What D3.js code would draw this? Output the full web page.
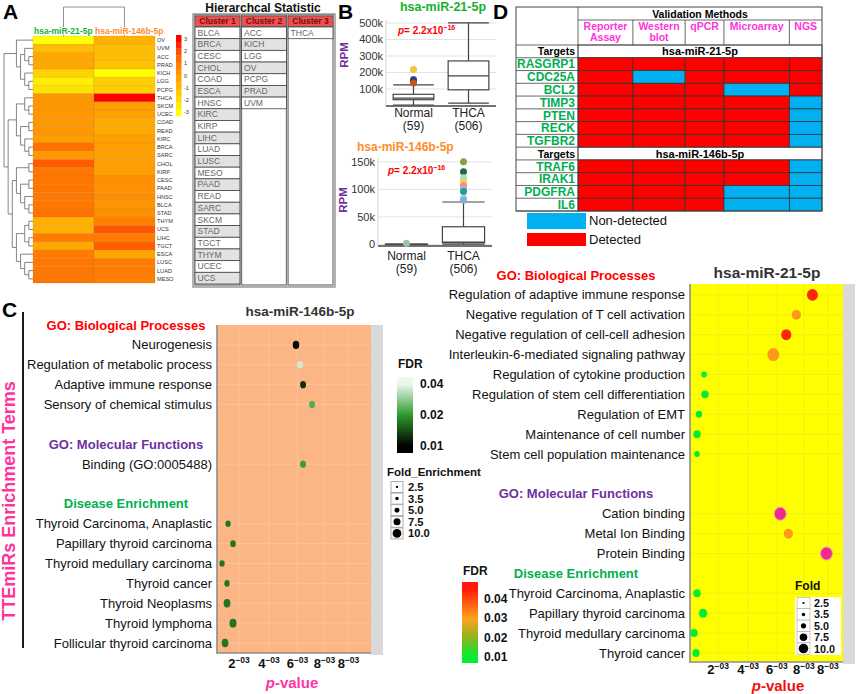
<!DOCTYPE html>
<html><head><meta charset="utf-8">
<script src="https://cdn.jsdelivr.net/npm/d3@7"></script>
<style>body{margin:0;background:#fff}svg{display:block;font-family:"Liberation Sans",Arial,sans-serif}</style>
</head><body><svg id="c" width="858" height="694"></svg>
<script>
// ================= DATA =================
// Panel A heatmap
const hmRows = ["OV","UVM","ACC","PRAD","KICH","LGG","PCPG","THCA","SKCM","UCEC","COAD","READ","KIRC","BRCA","SARC","CHOL","KIRP","CESC","PAAD","HNSC","BLCA","STAD","THYM","UCS","LIHC","TGCT","ESCA","LUSC","LUAD","MESO"];
const hmCols = ["hsa-miR-21-5p","hsa-miR-146b-5p"];
const hmMiR21  = [-3,-1,-0.3,-0.3,-1.7,-2.5,-2.2,0.2,0.2,0.2,0.2,0.2,0.1,1.2,0.2,1.7,1.1,1.1,1.1,1.1,1.1,1.2,-0.6,-0.6,1,-0.3,1,1.1,1.1,1.1];
const hmMiR146 = [-0.7,-1,-1,-1.2,-3,-1.6,-1.6,3,0,0,-0.4,-0.4,0,0,0,0,0,0.4,0.4,0.5,0.3,0.4,0.9,1.8,1,1.6,-0.2,1,1,0.9];
const hmTree = [
  ["OV", [["UVM",["ACC","PRAD"]], ["KICH",["LGG","PCPG"]]]],
  [[["THCA",["SKCM","UCEC"]], [["COAD","READ"],["KIRC",["BRCA","SARC"]]]],
   [[["CHOL","KIRP"],[["CESC","PAAD"],["HNSC",["BLCA","STAD"]]]],
    [[["THYM","UCS"],["LIHC","TGCT"]],["ESCA",["LUSC",["LUAD","MESO"]]]]]]
];
const hmLegendTicks = [3,2,1,0,-1,-2,-3];
// Hierarchical statistic
const clusterNames = ["Cluster 1","Cluster 2","Cluster 3"];
const cluster1 = ["BLCA","BRCA","CESC","CHOL","COAD","ESCA","HNSC","KIRC","KIRP","LIHC","LUAD","LUSC","MESO","PAAD","READ","SARC","SKCM","STAD","TGCT","THYM","UCEC","UCS"];
const cluster2 = ["ACC","KICH","LGG","OV","PCPG","PRAD","UVM"];
const cluster3 = ["THCA"];
// Panel B box plots  [lowWhisker, q1, median, q3, highWhisker]
const bCats = ["Normal","THCA"];
const bCounts = ["(59)","(506)"];
const miR21Stats = [[3000,35000,45000,68000,125000],[15000,95000,180000,270000,500000]];
const miR21Outliers = [[218000,157000,148000,137000],[]];
const miR21Ticks = [100000,200000,300000,400000,500000];
const miR21TickLabels = ["100k","200k","300k","400k","500k"];
const miR146Stats = [[0,0,0,0,0],[500,3000,4000,32000,77000]];
const miR146Outliers = [[2000],[150000,132000,121000,114000,106000,102000,96000,84000,80000]];
const miR146Ticks = [0,50000,100000,150000];
const miR146TickLabels = ["0","50k","100k","150k"];
// Panel D validation table
const dMethods = [["Reporter","Assay"],["Western","blot"],["qPCR"],["Microarray"],["NGS"]];
const dGroups = ["hsa-miR-21-5p","hsa-miR-146b-5p"];
const dTargets21 = ["RASGRP1","CDC25A","BCL2","TIMP3","PTEN","RECK","TGFBR2"];
const dDetect21 = [[1,1,1,1,1],[1,0,1,1,1],[1,1,1,0,1],[1,1,1,1,0],[1,1,1,1,0],[1,1,1,1,0],[1,1,1,1,0]];
const dTargets146 = ["TRAF6","IRAK1","PDGFRA","IL6"];
const dDetect146 = [[1,1,1,1,0],[1,1,1,1,0],[1,1,1,0,0],[1,1,1,0,0]];
const dLegend = ["Non-detected","Detected"];
// Panel C enrichment
const pTicks = [0.002,0.004,0.0059,0.0077,0.0093];
const pTickLabels = ["2^\u221203","4^\u221203","6^\u221203","8^\u221203","8^\u221203"];
const foldLegend = [2.5,3.5,5.0,7.5,10.0];
const l146Rows = ["#GO: Biological Processes","Neurogenesis","Regulation of metabolic process","Adaptive immune response","Sensory of chemical stimulus"," ","#GO: Molecular Functions","Binding (GO:0005488)","  ","#Disease Enrichment","Thyroid Carcinoma, Anaplastic","Papillary thyroid carcinoma","Thyroid medullary carcinoma","Thyroid cancer","Thyroid Neoplasms","Thyroid lymphoma","Follicular thyroid carcinoma"];
const l146Terms = ["Neurogenesis","Regulation of metabolic process","Adaptive immune response","Sensory of chemical stimulus","Binding (GO:0005488)","Thyroid Carcinoma, Anaplastic","Papillary thyroid carcinoma","Thyroid medullary carcinoma","Thyroid cancer","Thyroid Neoplasms","Thyroid lymphoma","Follicular thyroid carcinoma"];
const l146P = [0.0058,0.00607,0.00627,0.00687,0.00627,0.00127,0.0016,0.00087,0.0012,0.0012,0.0016,0.00107];
const l146Fdr = [0.0105,0.037,0.013,0.024,0.021,0.0175,0.0175,0.0175,0.0175,0.0175,0.0175,0.0175];
const l146Fold = [8.5,7.5,7.5,7.5,7.5,6.5,7,6.5,6.5,9,9.5,9];
const l146FdrTicks = [0.04,0.02,0.01];
const r21Rows = ["#GO: Biological Processes","Regulation of adaptive immune response","Negative regulation of T cell activation","Negative regulation of cell-cell adhesion","Interleukin-6-mediated signaling pathway","Regulation of cytokine production","Regulation of stem cell differentiation","Regulation of EMT","Maintenance of cell number","Stem cell population maintenance"," ","#GO: Molecular Functions","Cation binding","Metal Ion Binding","Protein Binding","#Disease Enrichment","Thyroid Carcinoma, Anaplastic","Papillary thyroid carcinoma","Thyroid medullary carcinoma","Thyroid cancer"];
const r21Terms = ["Regulation of adaptive immune response","Negative regulation of T cell activation","Negative regulation of cell-cell adhesion","Interleukin-6-mediated signaling pathway","Regulation of cytokine production","Regulation of stem cell differentiation","Regulation of EMT","Maintenance of cell number","Stem cell population maintenance","Cation binding","Metal Ion Binding","Protein Binding","Thyroid Carcinoma, Anaplastic","Papillary thyroid carcinoma","Thyroid medullary carcinoma","Thyroid cancer"];
const r21P = [0.00827,0.0072,0.00653,0.00567,0.00107,0.00113,0.00073,0.0006,0.0006,0.00613,0.00667,0.0092,0.0006,0.001,0.0004,0.00053];
const r21Fdr = [0.044,0.031,0.044,0.031,0.01,0.01,0.01,0.01,0.01,0.05,0.031,0.05,0.01,0.01,0.01,0.01];
const r21Fold = [8.5,6.9,7.7,9.4,4.1,5.4,4.7,5.4,4.1,9.4,6.9,9.4,5.4,6.1,5.4,5.4];
const r21FdrTicks = [0.04,0.03,0.02,0.01];

// ================= DRAW =================
const svg = d3.select("#c");
svg.append("rect").attr("width",858).attr("height",694).attr("fill","#fff");
const defs = svg.append("defs");
function txt(g,x,y,s,size,opt={}){
  const t=g.append("text").attr("x",x).attr("y",y).attr("font-size",size).text(s);
  if(opt.anchor) t.attr("text-anchor",opt.anchor);
  if(opt.bold) t.attr("font-weight","bold");
  t.attr("fill",opt.fill||"#111");
  return t;
}
[["A",3,19],["B",338,19],["D",493,19],["C",2,317]].forEach(d=>txt(svg,d[1],d[2],d[0],21,{bold:true,fill:"#000"}));

// ---------- Panel A ----------
const gA = svg.append("g");
const hmY = d3.scaleBand().domain(hmRows).range([36,283]);
const hmX = d3.scaleBand().domain(hmCols).range([33,155]);
const hmColor = d3.scaleLinear().domain([-3,-2,-1,0,1,2,3])
  .range(["#ffff00","#ffdc00","#ffbc00","#ff9f00","#ff7c00","#ff4c00","#ff0000"]).clamp(true);
const hmVals = [hmMiR21, hmMiR146];
hmRows.forEach((r,i)=>{
  hmCols.forEach((c,j)=>{
    gA.append("rect").attr("x",hmX(c)).attr("y",hmY(r)).attr("width",hmX.bandwidth()).attr("height",hmY.bandwidth())
      .attr("fill",hmColor(hmVals[j][i])).attr("stroke","rgba(170,110,40,0.35)").attr("stroke-width",0.5);
  });
  txt(gA,157,hmY(r)+hmY.bandwidth()/2+2,r,5.6,{fill:"#333"});
});
// row dendrogram
const rootR = d3.hierarchy(hmTree, d=>Array.isArray(d)?d:null);
d3.cluster().size([247,29]).separation(()=>1)(rootR);
rootR.links().forEach(l=>{
  gA.append("path").attr("d",`M${4+l.source.y},${36+l.source.x}V${36+l.target.x}H${4+l.target.y}`)
    .attr("fill","none").attr("stroke","#666").attr("stroke-width",0.8);
});
// column dendrogram
const rootC = d3.hierarchy(hmCols.slice(), d=>Array.isArray(d)?d:null);
d3.cluster().size([122,29]).separation(()=>1)(rootC);
rootC.links().forEach(l=>{
  gA.append("path").attr("d",`M${33+l.source.x},${7+l.source.y}H${33+l.target.x}V${7+l.target.y}`)
    .attr("fill","none").attr("stroke","#777").attr("stroke-width",0.8);
});
hmCols.forEach((c,j)=>{
  const t=txt(gA,hmX(c)+1,34,c,8.5,{bold:true,fill:j===0?"#16b030":"#ff8c2a"});
  t.attr("paint-order","stroke").attr("stroke","#fff").attr("stroke-width",1.5);
});
// legend
const legY = d3.scaleLinear().domain([3.3,-3.3]).range([35,116]);
d3.range(12).forEach(k=>{
  const v0 = 3.3 - k*0.55;
  gA.append("rect").attr("x",176).attr("y",legY(v0)).attr("width",5.5).attr("height",legY(v0-0.55)-legY(v0)+0.3)
    .attr("fill",hmColor(v0-0.275));
});
hmLegendTicks.forEach(t=>txt(gA,184,legY(t)+2,String(t),5.5,{fill:"#333"}));

// Hierarchical statistic table
txt(gA,263,12,"Hierarchcal Statistic",12,{bold:true,anchor:"middle",fill:"#111"});
gA.append("rect").attr("x",193).attr("y",14).attr("width",142).attr("height",273).attr("fill","#fff").attr("stroke","#999").attr("stroke-width",1.5);
const hsX = d3.scaleBand().domain(clusterNames).range([195,333]).paddingInner(0.035);
const hsRowH = (284-27)/22;
[cluster1,cluster2,cluster3].forEach((list,ci)=>{
  const x0 = hsX(clusterNames[ci]), bw = hsX.bandwidth();
  gA.append("rect").attr("x",x0).attr("y",15).attr("width",bw).attr("height",270).attr("fill","#fff").attr("stroke","#7a7a7a").attr("stroke-width",1.3);
  gA.append("rect").attr("x",x0).attr("y",16).attr("width",bw).attr("height",10.5).attr("fill","#ef5050").attr("stroke","#555").attr("stroke-width",0.8);
  txt(gA,x0+bw/2,24.3,clusterNames[ci],8.5,{bold:true,anchor:"middle",fill:"#7a0c0c"});
  list.forEach((n,k)=>{
    const y0 = 27 + k*hsRowH;
    gA.append("rect").attr("x",x0).attr("y",y0).attr("width",bw).attr("height",hsRowH)
      .attr("fill",k%2?"#e2e2e2":"#fff").attr("stroke","#444").attr("stroke-width",0.8);
    txt(gA,x0+2.5,y0+8.6,n,8.5,{fill:"#666"});
  });
});

// ---------- Panel B ----------
const outColors21 = [["#f2c53d","#2f5fa0","#1f3b84","#c4571f"],[]];
const outColors146 = [["#9cc3a8"],["#8ba046","#1d6b3f","#a9ddd6","#f3cf48","#f2857a","#e596c2","#12a39a","#aac8e6","#86aed2"]];
function boxPanel(o){
  const g = svg.append("g");
  const x = d3.scaleBand().domain(bCats).range([o.x0,o.x1]);
  const y = d3.scaleLinear().domain(o.yDom).range([o.yBot,o.yTop]);
  o.ticks.forEach(t=>g.append("line").attr("x1",o.x0).attr("x2",o.x1).attr("y1",y(t)).attr("y2",y(t)).attr("stroke","#e2e2e2"));
  g.append("line").attr("x1",o.x0).attr("x2",o.x0).attr("y1",o.yTop).attr("y2",o.yBot).attr("stroke","#d5d5d5");
  g.append("line").attr("x1",o.x0).attr("x2",o.x1).attr("y1",o.yBot).attr("y2",o.yBot).attr("stroke","#444").attr("stroke-width",1.3);
  o.ticks.forEach((t,i)=>txt(g,o.x0-3,y(t)+4,o.tickLabels[i],11,{anchor:"end",fill:"#333"}));
  bCats.forEach((c,i)=>{
    const s = o.stats[i], cx = x(c)+x.bandwidth()/2, bw = x.bandwidth()*0.74;
    const st = {stroke:"#444", sw:1.2};
    g.append("line").attr("x1",cx).attr("x2",cx).attr("y1",y(s[0])).attr("y2",y(s[4])).attr("stroke",st.stroke).attr("stroke-width",st.sw);
    [s[0],s[4]].forEach(v=>g.append("line").attr("x1",cx-bw/2).attr("x2",cx+bw/2).attr("y1",y(v)).attr("y2",y(v)).attr("stroke",st.stroke).attr("stroke-width",st.sw));
    g.append("rect").attr("x",cx-bw/2).attr("y",y(s[3])).attr("width",bw).attr("height",Math.max(0.1,y(s[1])-y(s[3])))
      .attr("fill","#fff").attr("stroke",st.stroke).attr("stroke-width",st.sw);
    if (y(s[1])-y(s[3]) > 30) {
      txt(g,cx,y(s[2])+3,d3.format(".3~s")(s[2]),8,{anchor:"middle",fill:"#aaa"});
    } else {
      g.append("line").attr("x1",cx-bw/2).attr("x2",cx+bw/2).attr("y1",y(s[2])).attr("y2",y(s[2])).attr("stroke",st.stroke).attr("stroke-width",st.sw);
    }
    o.outliers[i].forEach((v,k)=>g.append("circle").attr("cx",cx).attr("cy",y(v)).attr("r",3.5).attr("fill",o.outColors[i][k]));
    txt(g,cx,o.labY,c,12,{anchor:"middle",fill:"#222"});
    txt(g,cx,o.labY+13,bCounts[i],12,{anchor:"middle",fill:"#222"});
  });
  txt(g,o.titleX,o.titleY,o.title,o.titleSize,{bold:true,fill:o.titleColor,anchor:o.titleAnchor});
  const r = txt(g,0,0,"RPM",11.5,{bold:true,fill:"#7030a0",anchor:"middle"});
  r.attr("transform",`translate(${o.rpmX},${o.rpmY}) rotate(-90)`);
  const p = g.append("text").attr("x",o.pX).attr("y",o.pY).attr("font-size",10).attr("font-weight","bold").attr("fill","#ff0000");
  p.append("tspan").attr("font-style","italic").text("p");
  p.append("tspan").text("= 2.2x10");
  p.append("tspan").attr("font-size",7).attr("dy",-4).text("\u221216");
}
boxPanel({x0:386,x1:496,yDom:[-3000,518000],yBot:106,yTop:20,ticks:miR21Ticks,tickLabels:miR21TickLabels,
  stats:miR21Stats,outliers:miR21Outliers,outColors:outColors21,labY:117,
  title:"hsa-miR-21-5p",titleX:443,titleY:11,titleSize:12.5,titleColor:"#16b030",titleAnchor:"middle",
  rpmX:348,rpmY:55,pX:398,pY:34});
boxPanel({x0:378,x1:492,yDom:[-3000,157000],yBot:246,yTop:158,ticks:miR146Ticks,tickLabels:miR146TickLabels,
  stats:miR146Stats,outliers:miR146Outliers,outColors:outColors146,labY:260,
  title:"hsa-miR-146b-5p",titleX:357,titleY:151,titleSize:12,titleColor:"#ff8c2a",titleAnchor:"start",
  rpmX:347,rpmY:200,pX:388,pY:174});

// ---------- Panel D ----------
const gD = svg.append("g");
const tmp = gD.append("text").attr("font-size",10.5).attr("font-weight","bold");
const mw = dMethods.map(lines=>d3.max(lines,l=>{tmp.text(l);return tmp.node().getComputedTextLength();}));
tmp.remove();
const wts = mw.map(w=>w+8), wTot = d3.sum(wts);
const colEdges=[578]; wts.forEach(w=>colEdges.push(colEdges[colEdges.length-1]+w/wTot*244));
const dRowKeys = ["#0",...dTargets21,"#1",...dTargets146];
const dY = d3.scaleBand().domain(dRowKeys).range([45,211]);
const dDetect = {}; dTargets21.forEach((t,i)=>dDetect[t]=dDetect21[i]); dTargets146.forEach((t,i)=>dDetect[t]=dDetect146[i]);
const RED="#ff0000", BLUE="#00b0f0";
gD.append("rect").attr("x",516).attr("y",7).attr("width",306).attr("height",204).attr("fill","#fff");
dRowKeys.forEach(k=>{
  const y0=dY(k), h=dY.bandwidth();
  if(k[0]==="#"){
    txt(gD,575,y0+h/2+4,"Targets",10.5,{bold:true,anchor:"end",fill:"#000"});
    txt(gD,700,y0+h/2+4,dGroups[+k[1]],11,{bold:true,anchor:"middle",fill:"#000"});
    gD.append("rect").attr("x",578).attr("y",y0).attr("width",244).attr("height",h).attr("fill","none").attr("stroke","#444").attr("stroke-width",0.8);
  } else {
    dDetect[k].forEach((v,j)=>{
      gD.append("rect").attr("x",colEdges[j]).attr("y",y0).attr("width",colEdges[j+1]-colEdges[j]).attr("height",h)
        .attr("fill",v?RED:BLUE).attr("stroke","#333").attr("stroke-width",0.8);
    });
    txt(gD,575,y0+h/2+4.3,k,12,{bold:true,anchor:"end",fill:"#00b050"});
  }
  gD.append("line").attr("x1",516).attr("x2",578).attr("y1",y0+h).attr("y2",y0+h).attr("stroke","#444").attr("stroke-width",0.8);
});
gD.append("line").attr("x1",578).attr("x2",822).attr("y1",20).attr("y2",20).attr("stroke","#444").attr("stroke-width",0.8);
gD.append("line").attr("x1",516).attr("x2",822).attr("y1",45).attr("y2",45).attr("stroke","#444").attr("stroke-width",0.8);
gD.append("line").attr("x1",578).attr("x2",578).attr("y1",7).attr("y2",211).attr("stroke","#444").attr("stroke-width",0.8);
txt(gD,700,17.5,"Validation Methods",10.5,{bold:true,anchor:"middle",fill:"#000"});
dMethods.forEach((lines,j)=>{
  const cx=(colEdges[j]+colEdges[j+1])/2;
  lines.forEach((l,li)=>txt(gD,cx,30+li*11,l,10.5,{bold:true,anchor:"middle",fill:"#ff33dd"}));
  if(j>0) gD.append("line").attr("x1",colEdges[j]).attr("x2",colEdges[j]).attr("y1",20).attr("y2",45).attr("stroke","#444").attr("stroke-width",0.8);
});
gD.append("rect").attr("x",516).attr("y",7).attr("width",306).attr("height",204).attr("fill","none").attr("stroke","#444").attr("stroke-width",1);
dLegend.forEach((l,i)=>{
  gD.append("rect").attr("x",527).attr("y",i?233:213).attr("width",59).attr("height",i?13:16).attr("fill",i?RED:BLUE);
  txt(gD,589,i?244:225,l,13,{fill:"#111"});
});

// ---------- Panel C ----------
const secColors = {"GO: Biological Processes":"#ff0000","GO: Molecular Functions":"#7030a0","Disease Enrichment":"#00b050"};
svg.append("line").attr("x1",23).attr("x2",23).attr("y1",312).attr("y2",648).attr("stroke","#000").attr("stroke-width",1.8);
svg.append("text").attr("transform","translate(15,501) rotate(-90)").attr("text-anchor","middle")
  .attr("font-size",18).attr("font-weight","bold").attr("fill","#ff3399").text("TTEmiRs Enrichment Terms");

function enrich(o){
  const g = svg.append("g");
  const x = d3.scaleLinear().domain(o.xDom).range([o.x0,o.x1]);
  const y = d3.scalePoint().domain(o.rows).range([o.yFirst,o.yLast]);
  g.append("rect").attr("x",o.x1).attr("y",o.top).attr("width",12).attr("height",o.bot-o.top+2).attr("fill","#d9d9d9");
  g.append("rect").attr("x",o.x0).attr("y",o.top).attr("width",o.x1-o.x0).attr("height",o.bot-o.top).attr("fill",o.bg);
  pTicks.forEach(v=>g.append("line").attr("x1",x(v)).attr("x2",x(v)).attr("y1",o.top).attr("y2",o.bot).attr("stroke",o.grid).attr("stroke-width",0.7));
  o.terms.forEach(t=>g.append("line").attr("x1",o.x0).attr("x2",o.x1).attr("y1",y(t)).attr("y2",y(t)).attr("stroke",o.grid).attr("stroke-width",0.7));
  g.append("line").attr("x1",o.x0).attr("x2",o.x0).attr("y1",o.top).attr("y2",o.bot+1).attr("stroke","#8c8c8c").attr("stroke-width",1.6);
  g.append("line").attr("x1",o.x0).attr("x2",o.x1).attr("y1",o.bot).attr("y2",o.bot).attr("stroke","#8c8c8c").attr("stroke-width",1.6);
  o.rows.forEach(r=>{
    if(r[0]==="#"){ const s=r.slice(1); txt(g,o.headX,y(r)+4.5,s,13,{bold:true,anchor:"middle",fill:secColors[s]}); }
    else if(r.trim()!=="") txt(g,o.x0-5,y(r)+4.5,r,13,{anchor:"end",fill:"#111"});
  });
  o.terms.forEach((t,i)=>{
    const r = o.size(o.fold[i]);
    const e = g.append("ellipse").attr("cx",x(o.p[i])).attr("cy",y(t)).attr("rx",r*o.aspect).attr("ry",r).attr("fill",o.color(o.fdr[i]));
    if(o.stroke) { const s=o.stroke(o.fdr[i]); if(s) e.attr("stroke",s).attr("stroke-width",1); }
  });
  pTicks.forEach((v,i)=>{
    const parts = pTickLabels[i].split("^");
    const t = g.append("text").attr("x",x(v)).attr("y",o.tickY).attr("text-anchor","middle").attr("font-weight","bold").attr("fill","#111");
    t.append("tspan").attr("font-size",13).text(parts[0]);
    t.append("tspan").attr("font-size",8.5).attr("dy",-5).text(parts[1]);
  });
  const pv = g.append("text").attr("x",o.pvX).attr("y",o.pvY).attr("text-anchor","middle").attr("font-size",15).attr("font-weight","bold").attr("fill",o.pvColor);
  pv.append("tspan").attr("font-style","italic").text("p");
  pv.append("tspan").text("-value");
  txt(g,o.titleX,o.titleY,o.title,o.titleSize,{bold:true,anchor:"middle",fill:"#333"});
  return g;
}
// left (miR-146b)
const colorL = d3.scaleLinear().domain([0.01,0.02,0.04]).range(["#000000","#2e9a2e","#eef8ee"]).clamp(true);
const sizeL = d3.scaleSqrt().domain([2.5,10]).range([1.2,4.6]);
enrich({xDom:[0.000533,0.0108],x0:217,x1:371,rows:l146Rows,terms:l146Terms,yFirst:325,yLast:643,top:325,bot:653,
  bg:"#fcb585",grid:"#fdc99c",headX:126,p:l146P,fdr:l146Fdr,fold:l146Fold,size:sizeL,color:colorL,aspect:0.8,
  tickY:668,pvX:292,pvY:688,pvColor:"#ff33aa",title:"hsa-miR-146b-5p",titleX:300,titleY:316,titleSize:13.5});
// right (miR-21)
const colorRb = d3.scaleLinear().domain([0.01,0.02,0.03,0.045]).range(["#00ee33","#8fb41e","#ffa31a","#ff1a0a"]).clamp(true);
const colorR = v => v>0.045 ? "#ee2a8a" : colorRb(v);
const sizeR = d3.scaleSqrt().domain([2.5,10]).range([1.5,6.8]);
enrich({xDom:[0.000133,0.0103],x0:690,x1:843,rows:r21Rows,terms:r21Terms,yFirst:275,yLast:653,top:284,bot:662,
  bg:"#ffff00",grid:"#e9e91c",headX:576,p:r21P,fdr:r21Fdr,fold:r21Fold,size:sizeR,color:colorR,aspect:0.92,
  stroke:v=>v>0.045?"#ff8cc6":null,
  tickY:674,pvX:778,pvY:691,pvColor:"#ee1111",title:"hsa-miR-21-5p",titleX:767,titleY:278,titleSize:15.5});

// legends
function gradLegend(id,x0,yTop,yBot,ys,color,ticks,labX){
  const gr = defs.append("linearGradient").attr("id",id).attr("x1",0).attr("y1",0).attr("x2",0).attr("y2",1);
  d3.range(0,1.0001,0.05).forEach(t=>gr.append("stop").attr("offset",t).attr("stop-color",color(ys.invert(yTop+t*(yBot-yTop)))));
  svg.append("rect").attr("x",x0).attr("y",yTop).attr("width",16).attr("height",yBot-yTop).attr("fill",`url(#${id})`);
  ticks.forEach(t=>txt(svg,labX,ys(t)+4,d3.format(".2f")(t),12,{bold:true,fill:"#111"}));
}
txt(svg,398,368,"FDR",12,{bold:true,fill:"#111"});
const legYL = d3.scaleLinear().domain([0.04,0.02,0.01]).range([384,415,446]);
gradLegend("gL",397,377,453,legYL,colorL,l146FdrTicks,420);
txt(svg,387,476,"Fold_Enrichment",11.5,{bold:true,fill:"#111"});
foldLegend.forEach((v,i)=>{
  const cy = 487 + i*11.6;
  svg.append("rect").attr("x",391).attr("y",cy-5.5).attr("width",12).attr("height",11).attr("fill","#fff").attr("stroke","#999").attr("stroke-width",0.8);
  svg.append("circle").attr("cx",397).attr("cy",cy).attr("r",sizeL(v)*0.95).attr("fill","#000");
  txt(svg,408,cy+4,d3.format(".1f")(v),11.2,{bold:true,fill:"#111"});
});
txt(svg,463,575,"FDR",12,{bold:true,fill:"#111"});
const legYR = d3.scaleLinear().domain([0.04,0.01]).range([599,657]);
gradLegend("gR",462,582,663,legYR,colorRb,r21FdrTicks,484);
txt(svg,795,590,"Fold",12,{bold:true,fill:"#111"});
svg.append("rect").attr("x",795).attr("y",597).attr("width",46).attr("height",58).attr("fill","#fff");
foldLegend.forEach((v,i)=>{
  const cy = 603 + i*11.4;
  svg.append("rect").attr("x",797).attr("y",cy-5.7).attr("width",13).attr("height",11.4).attr("fill","#fff").attr("stroke","#aaa").attr("stroke-width",0.6);
  svg.append("circle").attr("cx",803.5).attr("cy",cy).attr("r",sizeR(v)*0.7).attr("fill","#000");
  txt(svg,814,cy+4,d3.format(".1f")(v),10.8,{bold:true,fill:"#111"});
});
</script></body></html>
